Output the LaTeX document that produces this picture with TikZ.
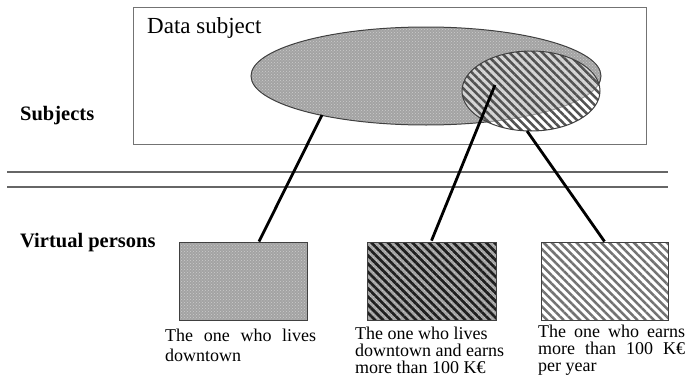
\documentclass[tikz,border=0pt]{standalone}
\usepackage{fontspec}
\setmainfont{Liberation Serif}
\usetikzlibrary{shapes.geometric,patterns,patterns.meta,calc}
\begin{document}
\begin{tikzpicture}[x=1pt,y=-1pt,
  frame/.style={draw=black!55,line width=1.1pt},
  dotted area/.style={preaction={fill=black!36},pattern=crosshatch dots,pattern color=white!80!black},
  stripes/.style={pattern={Lines[angle=-45,distance=5.8pt,line width=#1]}},
  link/.style={line width=2.8pt,black},
  lbl/.style={anchor=base west,inner sep=0pt},
  caption/.style={anchor=base west,inner sep=0pt,font=\fontsize{18}{#1}\selectfont},
  vbox/.style={rectangle,draw=black!75,line width=1pt,minimum height=78pt,inner sep=0pt}
]
\useasboundingbox (0,0) rectangle (685,388);

% subject frame
\node[frame,rectangle,anchor=north west,minimum width=513pt,minimum height=137pt,inner sep=0pt] (box) at (133,7) {};
\node[lbl,font=\fontsize{23}{27}\selectfont] (ds) at (147,33) {Data subject};

% the two sets of subjects
\node[ellipse,draw=black!75,line width=1pt,dotted area,minimum width=350pt,minimum height=98pt,inner sep=0pt] (big) at (426,76) {};
\node[ellipse,draw=black!75,line width=1pt,preaction={fill=white,fill opacity=0.5},stripes=2.5pt,pattern color=black!68,minimum width=138pt,minimum height=80pt,inner sep=0pt] (small) at (531,91) {};

% layer separators
\draw[black!60,line width=1.3pt] (7,172) -- (668,172);
\draw[black!60,line width=1.3pt] (7,187) -- (668,187);

% layer labels
\node[lbl,font=\bfseries\fontsize{20.5}{24}\selectfont] (subj) at (20,120) {Subjects};
\node[lbl,font=\bfseries\fontsize{20.5}{24}\selectfont] (virt) at (20,247) {Virtual persons};

% virtual persons
\node[vbox,dotted area,minimum width=128pt] (r1) at (243,281) {};
\node[vbox,preaction={dotted area},stripes=2.7pt,pattern color=black!88,minimum width=129pt] (r2) at (431.5,281) {};
\node[vbox,stripes=2.5pt,pattern color=black!55,minimum width=127pt] (r3) at (604.5,281) {};

% connectors
\coordinate (p1) at (322,115);
\coordinate (p2) at (495,85);
\coordinate (p3) at (527,131);
\draw[link] (p1) -- ([xshift=16pt]r1.north);
\draw[link] (p2) -- (r2.north);
\draw[link] (p3) -- (r3.north);

% captions
\node[caption=20] (c1) at (165,341) {\parbox[t]{151pt}{\lineskiplimit=-20pt
  \makebox[151pt][s]{The one who lives}\\downtown}};
\node[caption=17] (c2) at (355,339) {\parbox[t]{160pt}{\lineskiplimit=-20pt
  The one who lives\\downtown and earns\\more than 100 K€}};
\node[caption=17] (c3) at (538,337) {\parbox[t]{147pt}{\lineskiplimit=-20pt
  \makebox[147pt][s]{The one who earns}\\\makebox[147pt][s]{more than 100 K€}\\per year}};
\end{tikzpicture}
\end{document}
